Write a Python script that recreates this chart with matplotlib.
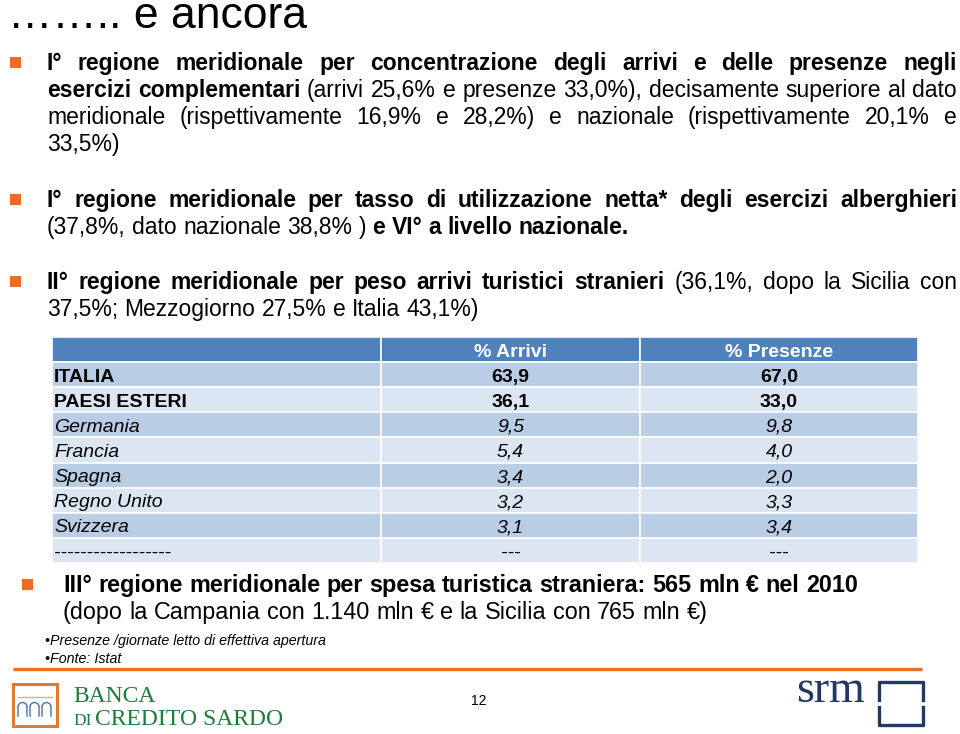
import numpy as np
import matplotlib.pyplot as plt
from matplotlib.patches import Rectangle, Arc

FONT = 'Liberation Sans'
ORANGE = '#EE6A25'
HEAD = '#4F81BD'
ROW_DARK = '#B9CDE5'
ROW_LIGHT = '#DCE6F2'

title = '…….. e ancora'

# bullet paragraphs: each line is a list of (text, weight), plus whether it is justified
bullet1 = [
    ([('I° regione meridionale per concentrazione degli arrivi e delle presenze negli', 'bold')], True),
    ([('esercizi complementari', 'bold'),
      ('(arrivi 25,6% e presenze 33,0%), decisamente superiore al dato', 'normal')], True),
    ([('meridionale (rispettivamente 16,9% e 28,2%) e nazionale (rispettivamente 20,1% e', 'normal')], True),
    ([('33,5%)', 'normal')], False),
]
bullet2 = [
    ([('I° regione meridionale per tasso di utilizzazione netta* degli esercizi alberghieri', 'bold')], True),
    ([('(37,8%, dato nazionale 38,8% )', 'normal'), ('e VI° a livello nazionale.', 'bold')], False),
]
bullet3 = [
    ([('II° regione meridionale per peso arrivi turistici stranieri', 'bold'),
      ('(36,1%, dopo la Sicilia con', 'normal')], True),
    ([('37,5%; Mezzogiorno 27,5% e Italia 43,1%)', 'normal')], False),
]
bullet4 = [
    ([('III° regione meridionale per spesa turistica straniera: 565 mln € nel 2010', 'bold')], False),
    ([('(dopo la Campania con 1.140 mln € e la Sicilia con 765 mln €)', 'normal')], False),
]

# table
col_heads = ['', '% Arrivi', '% Presenze']
countries = ['ITALIA', 'PAESI ESTERI', 'Germania', 'Francia', 'Spagna',
             'Regno Unito', 'Svizzera', '------------------']
arrivi = [63.9, 36.1, 9.5, 5.4, 3.4, 3.2, 3.1, None]
presenze = [67.0, 33.0, 9.8, 4.0, 2.0, 3.3, 3.4, None]
row_style = ['bold', 'bold', 'italic', 'italic', 'italic', 'italic', 'italic', 'italic']

notes = ['•Presenze /giornate letto di effettiva apertura', '•Fonte: Istat']
page_no = '12'


def fmt(v):
    return '---' if v is None else ('%.1f' % v).replace('.', ',')


def draw_line(ax, r, segs, x0, y, size, x1=None):
    words = []
    for txt, w in segs:
        for word in txt.split():
            words.append((word, w))
    arts, widths = [], []
    for word, w in words:
        t = ax.text(0, y, word, fontsize=size, fontweight=w, family=FONT,
                    va='baseline', ha='left', color='black')
        arts.append(t)
        widths.append(t.get_window_extent(r).width)
    gap = 0.278 * size * 100 / 72
    if x1 is not None and len(words) > 1:
        gap = (x1 - x0 - sum(widths)) / (len(words) - 1)
    x = x0
    for t, wd in zip(arts, widths):
        t.set_x(x)
        x += wd + gap


def draw_bullet(ax, r, lines, bx, x0, x1, y0, size, lh=27):
    ax.add_patch(Rectangle((bx, y0 - 13), 11, 11, color=ORANGE, lw=0))
    for i, (segs, just) in enumerate(lines):
        draw_line(ax, r, segs, x0, y0 + i * lh, size, x1 if just else None)


fig = plt.figure(figsize=(9.6, 7.34), dpi=100)
ax = fig.add_axes([0, 0, 1, 1])
ax.set_xlim(0, 960)
ax.set_ylim(734, 0)
ax.axis('off')
r = fig.canvas.get_renderer()

ax.text(8, 28, title, fontsize=32, family=FONT, va='baseline', color='black')

size = 16.5
draw_bullet(ax, r, bullet1, 10, 47, 957, 70, size)
draw_bullet(ax, r, bullet2, 10, 47, 957, 207, size)
draw_bullet(ax, r, bullet3, 10, 47, 957, 289, size)
draw_bullet(ax, r, bullet4, 22, 63, None, 592, 16.8)

# table
cols = [52, 381, 640, 918]
top, rh = 337, 25.1
for j in range(3):
    ax.add_patch(Rectangle((cols[j], top), cols[j + 1] - cols[j], rh,
                           facecolor=HEAD, edgecolor='white', lw=1.2))
for j in (1, 2):
    ax.text((cols[j] + cols[j + 1]) / 2, top + rh / 2 + 7, col_heads[j], fontsize=14,
            fontweight='bold', family=FONT, color='white', ha='center', va='baseline')
for i, name in enumerate(countries):
    y = top + rh * (i + 1)
    fc = ROW_DARK if i % 2 == 0 else ROW_LIGHT
    for j in range(3):
        ax.add_patch(Rectangle((cols[j], y), cols[j + 1] - cols[j], rh,
                               facecolor=fc, edgecolor='white', lw=1.2))
    st = row_style[i]
    kw = dict(fontsize=14, family=FONT, color='black', va='baseline',
              fontweight='bold' if st == 'bold' else 'normal',
              fontstyle='italic' if st == 'italic' else 'normal')
    yb = y + rh / 2 + 7
    ax.text(54, yb, name, ha='left', **kw)
    ax.text((cols[1] + cols[2]) / 2, yb, fmt(arrivi[i]), ha='center', **kw)
    ax.text((cols[2] + cols[3]) / 2, yb, fmt(presenze[i]), ha='center', **kw)

# footnotes
for k, n in enumerate(notes):
    ax.text(45, 645 + 18 * k, n, fontsize=10.3, family=FONT, fontstyle='italic',
            va='baseline', color='black')

ax.plot([13, 922], [669, 669], color='#F26F21', lw=2.4, solid_capstyle='butt')
ax.text(479, 705, page_no, fontsize=10, family=FONT, ha='center', va='baseline')

# Banca di Credito Sardo logo
ax.add_patch(Rectangle((13, 684), 44, 42, fill=False, edgecolor='#E07A35', lw=2.2))
ax.plot([18, 52], [697, 697], color='#C8C060', lw=1)
for cx in (22.5, 34.5, 46.5):
    ax.add_patch(Arc((cx, 707), 9, 9, theta1=180, theta2=360, color='#5A7FA8', lw=1.1))
    ax.plot([cx - 4.5, cx - 4.5], [707, 716], color='#5A7FA8', lw=1.1)
    ax.plot([cx + 4.5, cx + 4.5], [707, 716], color='#5A7FA8', lw=1.1)
green = '#1F7A3C'
ax.text(73, 702, 'BANCA', fontsize=17, family='Liberation Serif', color=green, va='baseline')
ax.text(73, 725, 'DI', fontsize=12.5, family='Liberation Serif', color=green, va='baseline')
ax.text(95, 725, 'CREDITO SARDO', fontsize=17, family='Liberation Serif', color=green,
        va='baseline')

# srm logo
navy = '#1F3864'
ax.text(796, 702, 'srm', fontsize=33, family='Liberation Serif', color=navy, va='baseline')
ax.plot([879, 879, 923, 923], [700, 682, 682, 700], color=navy, lw=2.4)
ax.plot([879, 879, 923, 923], [707, 725, 725, 707], color=navy, lw=2.4)

fig.savefig('out.png', dpi=100)
